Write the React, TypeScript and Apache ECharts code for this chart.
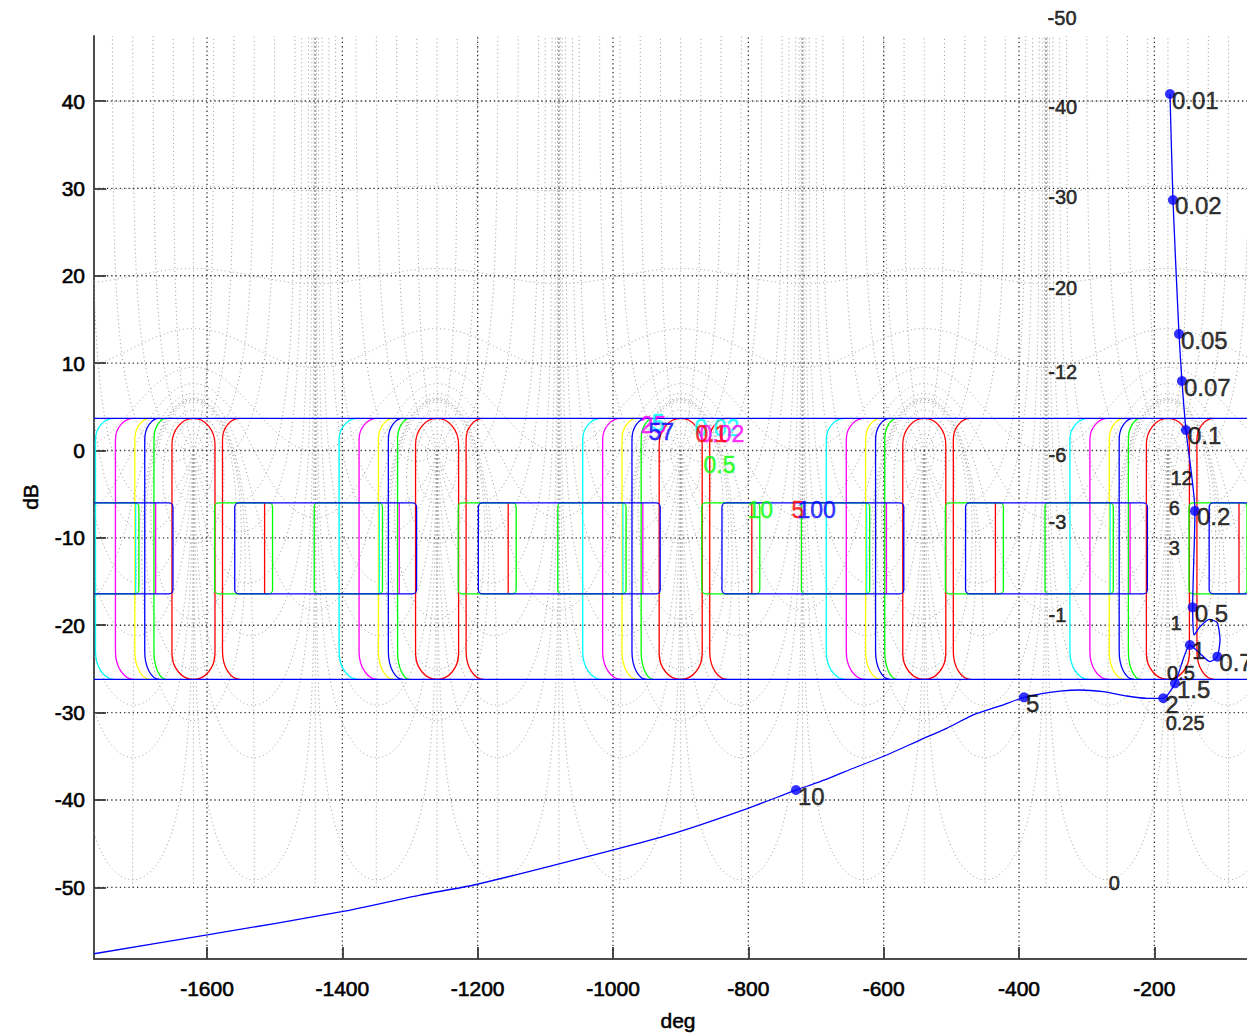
import React, { useEffect, useRef } from "react";
import * as echarts from "echarts";

// ---------- axis ranges & ticks ----------
const phaseMin = -1767;
const phaseMax = -63.1;
const dbMin = -58.2;
const dbMax = 47.44;
const xTicks = [-1600, -1400, -1200, -1000, -800, -600, -400, -200];
const yTicks = [-50, -40, -30, -20, -10, 0, 10, 20, 30, 40];

// ---------- open-loop response (Nichols plot) ----------
const curvePhase = [-176.9, -172.5, -163.6, -159.2, -153.3, -140.0, -143.4, -141.4, -132.6, -118.8, -107.0, -103.0, -107.0, -117.8, -130.1, -147.4, -169.5, -186.8, -211.3, -240.9, -275.5, -309.9, -339.5, -364.1, -392.7, -428.1, -467.6, -506.9, -546.4, -595.6, -644.9, -694.1, -729.6, -800.5, -909.9, -1019.2, -1205.4, -1285.2, -1400.9, -1599.6, -1767];
const curveDb = [40.8, 28.67, 13.33, 7.95, 2.35, -6.92, -17.95, -21.12, -20.17, -19.32, -19.71, -21.69, -23.6, -24.17, -23.41, -22.26, -26.65, -28.36, -28.36, -28.1, -27.61, -27.41, -27.53, -27.79, -28.25, -29.24, -30.27, -31.8, -33.14, -34.85, -36.37, -37.91, -38.86, -40.95, -43.81, -46.1, -49.73, -50.88, -52.79, -55.45, -57.6];

const markerFreq = ["0.01", "0.02", "0.05", "0.07", "0.1", "0.2", "0.5", "0.7", "1", "1.5", "2", "5", "10"];
const markerPhase = [-176.9, -172.5, -163.6, -159.2, -153.3, -140.0, -143.4, -107.0, -147.4, -169.5, -186.8, -392.7, -729.6];
const markerDb = [40.8, 28.67, 13.33, 7.95, 2.35, -6.92, -17.95, -23.6, -22.26, -26.65, -28.36, -28.25, -38.86];

// ---------- Nichols grid (sensitivity contours) ----------
const gainLevels = [-50, -40, -30, -20, -12, -6, -3, -1, 0, 0.25, 0.5, 1, 3, 6, 12];
const phaseLevels = [0.2, 1, 2, 5, 10, 20, 30, 60, 90, 120, 150];
const gridCenters = [-180, -540, -900, -1260, -1620];

const gridLabelText = ["-50", "-40", "-30", "-20", "-12", "-6", "-3", "-1", "12", "6", "3", "1", "0.5", "0.25", "0"];
const gridLabelPhase = [-358.5, -357.5, -357.5, -357.5, -357.5, -357, -357, -357, -177, -179.5, -179.5, -177, -182, -184, -268];
const gridLabelDb = [49.47, 39.28, 29.05, 18.56, 9.02, -0.52, -8.15, -18.83, -3.18, -6.62, -11.19, -19.78, -25.5, -31.22, -49.54];

// ---------- bounds ----------
const CYAN = "#00ffff", MAGENTA = "#ff00ff", YELLOW = "#ffff00", BLUE = "#0000ff", GREEN = "#00ff00", RED = "#ff0000";
const periodCenters = [-1620, -1260, -900, -540, -180, 180];
const bandTop = 3.67;
const bandBottom = -26.2;
const parenColors = [CYAN, MAGENTA, YELLOW, BLUE, GREEN, RED];
const parenEdge = [-144.8, -115.3, -86.7, -72.0, -58.4, 42.9];
const parenWidth = [28.0, 27.3, 23.0, 21.7, 18.5, 25.9];
const ovalHalfWidth = 31.8;
const rectTop = -6.0;
const rectBottom = -16.4;
const tickColors = [RED, CYAN, MAGENTA];
const tickPhase = [-254.9, -85.4, -55.9];
const boxColors = [GREEN, GREEN, BLUE];
const boxLeft = [-328.8, -181.6, -299.0];
const boxRight = [-243.1, -80.7, -30.3];
const bandLines = [bandTop, bandBottom];

const boundLabelText = ["25", "5", "57", "0.02", "0.02", "0.1", "0.5", "10", "5", "100"];
const boundLabelColor = [MAGENTA, CYAN, BLUE, CYAN, MAGENTA, RED, GREEN, GREEN, RED, BLUE];
const boundLabelPhase = [-960.1, -943.9, -948.3, -880.3, -872.9, -878.8, -867.0, -802.0, -737.0, -728.1];
const boundLabelDb = [2.92, 3.15, 2.12, 2.58, 1.89, 1.89, -1.66, -6.81, -6.81, -6.81];

const FONT = "'Liberation Sans', Arial, Helvetica, sans-serif";
const D2R = Math.PI / 180;

function toDb(v: number) {
  if (!(v > 0)) return -200;
  return Math.max(-200, 20 * Math.log10(v));
}

function clipSegment(a: number[], b: number[], xmin: number, xmax: number, ymin: number, ymax: number) {
  const dx = b[0] - a[0], dy = b[1] - a[1];
  let t0 = 0, t1 = 1;
  const p = [-dx, dx, -dy, dy];
  const q = [a[0] - xmin, xmax - a[0], a[1] - ymin, ymax - a[1]];
  for (let i = 0; i < 4; i++) {
    if (p[i] === 0) {
      if (q[i] < 0) return null;
    } else {
      const t = q[i] / p[i];
      if (p[i] < 0) {
        if (t > t1) return null;
        if (t > t0) t0 = t;
      } else {
        if (t < t0) return null;
        if (t < t1) t1 = t;
      }
    }
  }
  return [t0, t1];
}

function clipPolyline(pts: number[][], ymin: number, ymax: number) {
  const out: number[][][] = [];
  let cur: number[][] | null = null;
  for (let i = 1; i < pts.length; i++) {
    const a = pts[i - 1], b = pts[i];
    const r = clipSegment(a, b, phaseMin, phaseMax, ymin, ymax);
    if (!r) {
      if (cur && cur.length > 1) out.push(cur);
      cur = null;
      continue;
    }
    const pa = [a[0] + r[0] * (b[0] - a[0]), a[1] + r[0] * (b[1] - a[1])];
    const pb = [a[0] + r[1] * (b[0] - a[0]), a[1] + r[1] * (b[1] - a[1])];
    if (!cur || r[0] > 0) {
      if (cur && cur.length > 1) out.push(cur);
      cur = [pa];
    }
    cur.push(pb);
    if (r[1] < 1) {
      if (cur.length > 1) out.push(cur);
      cur = null;
    }
  }
  if (cur && cur.length > 1) out.push(cur);
  return out;
}

function buildNicholsGrid() {
  const raw: number[][][] = [];
  // gain contours |1/(1+L)| = M
  for (const m of gainLevels) {
    const r = Math.pow(10, -m / 20);
    if (m < 0) {
      const seg: number[][] = [];
      for (let phi = -1800; phi <= 0; phi += 1) {
        const c = Math.cos(phi * D2R);
        seg.push([phi, toDb(-c + Math.sqrt(c * c + r * r - 1))]);
      }
      raw.push(seg);
    } else if (m === 0) {
      for (const c0 of gridCenters) {
        const seg: number[][] = [];
        for (let t = -89.6; t <= 89.6; t += 0.8) {
          const phi = c0 + 90 * Math.sin(t * D2R);
          seg.push([phi, toDb(-2 * Math.cos(phi * D2R))]);
        }
        raw.push(seg);
      }
    } else {
      const beta = Math.asin(r) / D2R;
      for (const c0 of gridCenters) {
        const up: number[][] = [];
        const lo: number[][] = [];
        for (let t = -90; t <= 90; t += 2) {
          const phi = c0 + beta * Math.sin(t * D2R);
          const cs = Math.cos(phi * D2R);
          const disc = Math.sqrt(Math.max(0, cs * cs - 1 + r * r));
          up.push([phi, toDb(-cs + disc)]);
          lo.push([phi, toDb(-cs - disc)]);
        }
        const seg = up.concat(lo.reverse());
        seg.push(seg[0]);
        raw.push(seg);
      }
    }
  }
  // phase contours arg(1/(1+L)) = psi
  for (const psi of phaseLevels) {
    const sp = Math.sin(psi * D2R);
    const base: number[][] = [];
    let last = -180;
    for (let phi = -180; phi < -psi; phi += 1) {
      const v = -sp / Math.sin((phi + psi) * D2R);
      const d = toDb(v);
      if (d > 60) break;
      base.push([phi, d]);
      last = phi;
    }
    for (let D = 0; D <= 60; D += 3) {
      const u = -Math.asin(sp / Math.pow(10, D / 20)) / D2R;
      const phi = u - psi;
      if (phi > last) base.push([phi, D]);
    }
    base.sort((a, b) => a[0] - b[0]);
    for (let k = 0; k < 5; k++) {
      raw.push(base.map((p) => [p[0] - 360 * k, p[1]]));
      raw.push(base.map((p) => [-360 - p[0] - 360 * k, p[1]]));
    }
  }
  // psi = 0 / 180 contours : vertical lines at multiples of 180 deg
  for (let j = 0; j <= 9; j++) {
    raw.push([[-180 * j, -50], [-180 * j, 60]]);
  }
  const segs: number[][][] = [];
  for (const s of raw) for (const c of clipPolyline(s, -50, dbMax)) segs.push(c);
  return segs;
}

function buildAxisGrid() {
  const segs: number[][][] = [];
  for (const x of xTicks) segs.push([[x, dbMin], [x, dbMax]]);
  for (const y of yTicks) segs.push([[phaseMin, y], [phaseMax, y]]);
  return segs;
}

type Shape = { kind: string; x1: number; x2: number; y1: number; y2: number; color: string };

function buildShapes(): Shape[] {
  const shapes: Shape[] = [];
  for (const c of periodCenters) {
    for (let i = 0; i < parenColors.length; i++) {
      if (i === parenColors.length - 1) {
        shapes.push({ kind: "oval", x1: c - ovalHalfWidth, x2: c + ovalHalfWidth, y1: bandTop, y2: bandBottom, color: RED });
      }
      shapes.push({ kind: "paren", x1: c + parenEdge[i], x2: c + parenEdge[i] + parenWidth[i], y1: bandTop, y2: bandBottom, color: parenColors[i] });
    }
    for (let i = 0; i < tickPhase.length; i++) {
      shapes.push({ kind: "line", x1: c + tickPhase[i], x2: c + tickPhase[i], y1: rectTop, y2: rectBottom, color: tickColors[i] });
    }
    for (let i = 0; i < boxLeft.length; i++) {
      shapes.push({ kind: "rect", x1: c + boxLeft[i], x2: c + boxRight[i], y1: rectTop, y2: rectBottom, color: boxColors[i] });
    }
  }
  for (const y of bandLines) {
    shapes.push({ kind: "line", x1: phaseMin, x2: phaseMax, y1: y, y2: y, color: BLUE });
  }
  return shapes;
}

function buildOption() {
  const nicholsGrid = buildNicholsGrid();
  const axisGrid = buildAxisGrid();
  const shapes = buildShapes();
  const K = 0.5523;

  const renderShape = (params: any, api: any) => {
    const s = shapes[params.dataIndex];
    const P = (x: number, y: number) => api.coord([x, y]);
    const style = { stroke: s.color, lineWidth: 1.3, fill: "none" };
    if (s.kind === "line") {
      const a = P(s.x1, s.y1), b = P(s.x2, s.y2);
      return { type: "line", shape: { x1: a[0], y1: a[1], x2: b[0], y2: b[1] }, style };
    }
    if (s.kind === "rect") {
      const a = P(s.x1, s.y1), b = P(s.x2, s.y2);
      return { type: "rect", shape: { x: a[0], y: a[1], width: b[0] - a[0], height: b[1] - a[1], r: 4 }, style };
    }
    if (s.kind === "paren") {
      const A = P(s.x2, s.y1);
      const B = P(s.x1, s.y1 - 2.4);
      const Cc = P(s.x1, s.y2 + 3.2);
      const D = P(s.x2, s.y2);
      const rx = A[0] - B[0];
      const ryT = B[1] - A[1];
      const ryB = D[1] - Cc[1];
      const d =
        `M${A[0]},${A[1]} C${A[0] - K * rx},${A[1]} ${B[0]},${B[1] - K * ryT} ${B[0]},${B[1]} ` +
        `L${Cc[0]},${Cc[1]} C${Cc[0]},${Cc[1] + K * ryB} ${D[0] - K * rx},${D[1]} ${D[0]},${D[1]}`;
      return { type: "path", shape: { pathData: d }, style };
    }
    // oval (stadium)
    const cx = (s.x1 + s.x2) / 2;
    const T = P(cx, s.y1);
    const Bm = P(cx, s.y2);
    const LT = P(s.x1, s.y1 - 3.0);
    const RT = P(s.x2, s.y1 - 3.0);
    const LB = P(s.x1, s.y2 + 3.0);
    const RB = P(s.x2, s.y2 + 3.0);
    const hw = T[0] - LT[0];
    const cap = LT[1] - T[1];
    const d =
      `M${LT[0]},${LT[1]} C${LT[0]},${LT[1] - K * cap} ${T[0] - K * hw},${T[1]} ${T[0]},${T[1]} ` +
      `C${T[0] + K * hw},${T[1]} ${RT[0]},${RT[1] - K * cap} ${RT[0]},${RT[1]} ` +
      `L${RB[0]},${RB[1]} C${RB[0]},${RB[1] + K * cap} ${Bm[0] + K * hw},${Bm[1]} ${Bm[0]},${Bm[1]} ` +
      `C${Bm[0] - K * hw},${Bm[1]} ${LB[0]},${LB[1] + K * cap} ${LB[0]},${LB[1]} Z`;
    return { type: "path", shape: { pathData: d }, style };
  };

  const axisCommon = {
    type: "value",
    axisLine: { show: true, onZero: false, lineStyle: { color: "#4d4d4d", width: 2 } },
    splitLine: { show: false },
  };
  const plain = (v: number) => String(v);
  const hidden = "rgba(0,0,0,0)";
  const heavy = { textBorderColor: "#000", textBorderWidth: 0.6 };

  return {
    animation: false,
    backgroundColor: "#ffffff",
    grid: { left: 94, top: 36, right: 0, bottom: 76, containLabel: false },
    xAxis: {
      ...axisCommon,
      min: phaseMin,
      max: phaseMax,
      axisTick: { show: true, inside: true, length: 12, customValues: xTicks, lineStyle: { color: "#4d4d4d", width: 2 } },
      axisLabel: { customValues: xTicks, formatter: plain, fontSize: 21, color: "#000", fontFamily: FONT, margin: 19, ...heavy },
    },
    yAxis: {
      ...axisCommon,
      min: dbMin,
      max: dbMax,
      axisTick: { show: true, inside: true, length: 12, customValues: yTicks, lineStyle: { color: "#4d4d4d", width: 2 } },
      axisLabel: { customValues: yTicks, formatter: plain, fontSize: 21, color: "#000", fontFamily: FONT, margin: 9, ...heavy },
    },
    graphic: [
      { type: "text", x: 678, y: 1020, style: { text: "deg", fontSize: 21, fontFamily: FONT, fill: "#000", stroke: "#000", lineWidth: 0.5, align: "center", verticalAlign: "middle" } },
      { type: "text", x: 30, y: 497, rotation: Math.PI / 2, style: { text: "dB", fontSize: 21, fontFamily: FONT, fill: "#000", stroke: "#000", lineWidth: 0.5, align: "center", verticalAlign: "middle" } },
    ],
    series: [
      {
        type: "lines",
        coordinateSystem: "cartesian2d",
        polyline: true,
        silent: true,
        z: 1,
        data: nicholsGrid.map((c) => ({ coords: c })),
        lineStyle: { color: "#9a9a9a", width: 1, type: [1, 3], opacity: 1, curveness: 0 },
      },
      {
        type: "lines",
        coordinateSystem: "cartesian2d",
        polyline: true,
        silent: true,
        z: 2,
        data: axisGrid.map((c) => ({ coords: c })),
        lineStyle: { color: "#333333", width: 1.3, type: [1.3, 3], opacity: 1, curveness: 0 },
      },
      {
        type: "custom",
        coordinateSystem: "cartesian2d",
        clip: true,
        silent: true,
        z: 3,
        renderItem: renderShape,
        encode: { x: 0, y: 1 },
        data: shapes.map((s) => [s.x1, s.y1]),
      },
      {
        type: "line",
        z: 5,
        silent: true,
        symbol: "none",
        smooth: 0.2,
        data: curvePhase.map((p, i) => [p, curveDb[i]]),
        lineStyle: { color: BLUE, width: 1.3 },
      },
      {
        type: "scatter",
        z: 6,
        silent: true,
        clip: false,
        symbolSize: 10,
        itemStyle: { color: BLUE },
        data: markerPhase.map((p, i) => [p, markerDb[i]]),
        label: {
          show: true,
          position: "right",
          distance: -3,
          offset: [0, 6],
          fontSize: 24,
          fontFamily: FONT,
          color: "#000",
          ...heavy,
          textBorderWidth: 0.5,
          formatter: (pr: any) => markerFreq[pr.dataIndex],
        },
      },
      {
        type: "scatter",
        z: 7,
        silent: true,
        clip: false,
        symbolSize: 1,
        itemStyle: { color: hidden },
        data: gridLabelPhase.map((p, i) => [p, gridLabelDb[i]]),
        label: {
          show: true,
          position: "right",
          distance: 0,
          fontSize: 20,
          fontFamily: FONT,
          color: "#000",
          ...heavy,
          formatter: (pr: any) => gridLabelText[pr.dataIndex],
        },
      },
      {
        type: "scatter",
        z: 7,
        silent: true,
        clip: false,
        symbolSize: 1,
        itemStyle: { color: hidden },
        data: boundLabelPhase.map((p, i) => ({
          value: [p, boundLabelDb[i]],
          label: { color: boundLabelColor[i], textBorderColor: boundLabelColor[i], textBorderWidth: 0.5 },
        })),
        label: {
          show: true,
          position: "right",
          distance: 0,
          fontSize: 23,
          fontFamily: FONT,
          formatter: (pr: any) => boundLabelText[pr.dataIndex],
        },
      },
    ],
  };
}

export default function App() {
  const ref = useRef<HTMLDivElement>(null);
  useEffect(() => {
    document.body.style.margin = "0";
    const chart = echarts.init(ref.current as HTMLDivElement, null, { renderer: "svg" });
    chart.setOption(buildOption() as any);
    return () => chart.dispose();
  }, []);
  return <div ref={ref} style={{ width: 1247, height: 1035, background: "#fff" }} />;
}
